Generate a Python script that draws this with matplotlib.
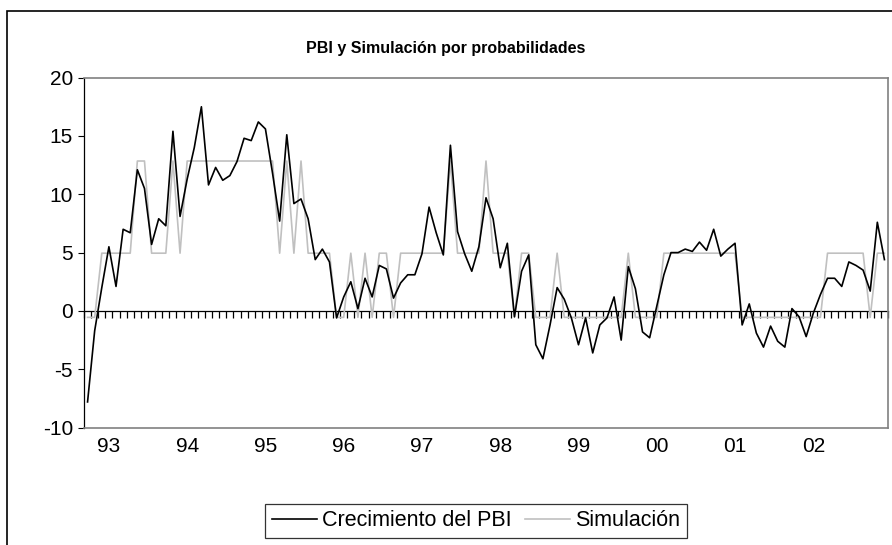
import numpy as np
import matplotlib.pyplot as plt
from matplotlib.patches import Rectangle

plt.rcParams['font.family'] = ['Liberation Sans', 'DejaVu Sans']
plt.rcParams['axes.unicode_minus'] = False

# etiquetas de año en el eje x (cada 11 observaciones)
anios = ['93', '94', '95', '96', '97', '98', '99', '00', '01', '02']

# crecimiento del PBI (%)
crecimiento = [
    -7.8, -1.7, 2.0, 5.5, 2.1, 7.0, 6.7, 12.1, 10.5, 5.7,
    7.9, 7.3, 15.4, 8.1, 11.3, 14.0, 17.5, 10.8, 12.3, 11.2,
    11.6, 12.8, 14.8, 14.6, 16.2, 15.6, 11.8, 7.7, 15.1, 9.2,
    9.6, 7.9, 4.4, 5.3, 4.2, -0.6, 1.2, 2.5, 0.2, 2.8,
    1.2, 3.9, 3.6, 1.1, 2.4, 3.1, 3.1, 4.9, 8.9, 6.7,
    4.8, 14.2, 6.8, 4.9, 3.4, 5.5, 9.7, 7.9, 3.7, 5.8,
    -0.5, 3.4, 4.8, -2.9, -4.1, -1.2, 2.0, 1.0, -0.6, -2.9,
    -0.6, -3.6, -1.2, -0.6, 1.2, -2.5, 3.8, 1.9, -1.8, -2.3,
    0.4, 3.1, 5.0, 5.0, 5.3, 5.1, 5.9, 5.2, 7.0, 4.7,
    5.3, 5.8, -1.2, 0.6, -1.9, -3.1, -1.3, -2.6, -3.1, 0.2,
    -0.5, -2.2, -0.2, 1.4, 2.8, 2.8, 2.1, 4.2, 3.9, 3.5,
    1.7, 7.6, 4.4,
]

# simulación por probabilidades (tres regímenes)
simulacion = [
    -0.55, -0.55, 4.95, 4.95, 4.95, 4.95, 4.95, 12.85, 12.85, 4.95,
    4.95, 4.95, 12.85, 4.95, 12.85, 12.85, 12.85, 12.85, 12.85, 12.85,
    12.85, 12.85, 12.85, 12.85, 12.85, 12.85, 12.85, 4.95, 12.85, 4.95,
    12.85, 4.95, 4.95, 4.95, 4.95, -0.55, -0.55, 4.95, -0.55, 4.95,
    -0.55, 4.95, 4.95, -0.55, 4.95, 4.95, 4.95, 4.95, 4.95, 4.95,
    4.95, 12.85, 4.95, 4.95, 4.95, 4.95, 12.85, 4.95, 4.95, 4.95,
    -0.55, 4.95, 4.95, -0.55, -0.55, -0.55, 4.95, -0.55, -0.55, -0.55,
    -0.55, -0.55, -0.55, -0.55, -0.55, -0.55, 4.95, -0.55, -0.55, -0.55,
    -0.55, 4.95, 4.95, 4.95, 4.95, 4.95, 4.95, 4.95, 4.95, 4.95,
    4.95, 4.95, -0.55, -0.55, -0.55, -0.55, -0.55, -0.55, -0.55, -0.55,
    -0.55, -0.55, -0.55, -0.55, 4.95, 4.95, 4.95, 4.95, 4.95, 4.95,
    -0.55, 4.95, 4.95,
]

n = len(crecimiento)
x = np.arange(n)
pos_anios = np.arange(3, n, 11)[:len(anios)]

W, H = 892, 545
fig = plt.figure(figsize=(W / 100, H / 100), dpi=100, facecolor='white')
ax = fig.add_axes([84 / W, 1 - 427.6 / H, 804 / W, 350 / H])

l_sim, = ax.plot(x, simulacion, color='#c0c0c0', lw=1.2, zorder=3)
l_pbi, = ax.plot(x, crecimiento, color='black', lw=1.2, zorder=4)

ax.set_xlim(-0.5, n - 0.5)
ax.set_ylim(-10, 20)
ax.set_yticks(range(-10, 21, 5))
ax.set_xticks(pos_anios, anios)
ax.tick_params(axis='y', direction='out', length=4, width=0.8, labelsize=15, pad=4)
ax.tick_params(axis='x', length=0, labelsize=15, pad=7)

for s in ('top', 'right', 'bottom'):
    ax.spines[s].set_color('#808080')
    ax.spines[s].set_linewidth(1.2)
ax.spines['left'].set_color('black')
ax.spines['left'].set_linewidth(0.9)

# eje de categorías cruzando en cero, con marcas entre categorías
eje0 = ax.secondary_xaxis(1 / 3)
eje0.set_xticks(np.arange(n + 1) - 0.5)
eje0.tick_params(direction='out', length=5, width=0.9, labelbottom=False, labeltop=False)
eje0.spines['bottom'].set_linewidth(0.9)

fig.text(0.5, 1 - 48 / H, 'PBI y Simulación por probabilidades',
         ha='center', va='center', fontsize=11.5, fontweight='bold')

leg = fig.legend([l_pbi, l_sim], ['Crecimiento del PBI', 'Simulación'],
                 loc='center', bbox_to_anchor=(476 / W, 1 - 521 / H), ncol=2,
                 fontsize=15.5, frameon=True, fancybox=False, handlelength=2.1,
                 handletextpad=0.25, columnspacing=0.6, borderpad=0.3,
                 borderaxespad=0)
leg.get_frame().set_edgecolor('black')
leg.get_frame().set_linewidth(0.9)

# borde del área del gráfico
fig.patches.append(Rectangle((7 / W, -0.1), 2, 1.1 - 11 / H, transform=fig.transFigure,
                             fill=False, edgecolor='black', lw=1.2))

fig.savefig('out.png', dpi=100)
